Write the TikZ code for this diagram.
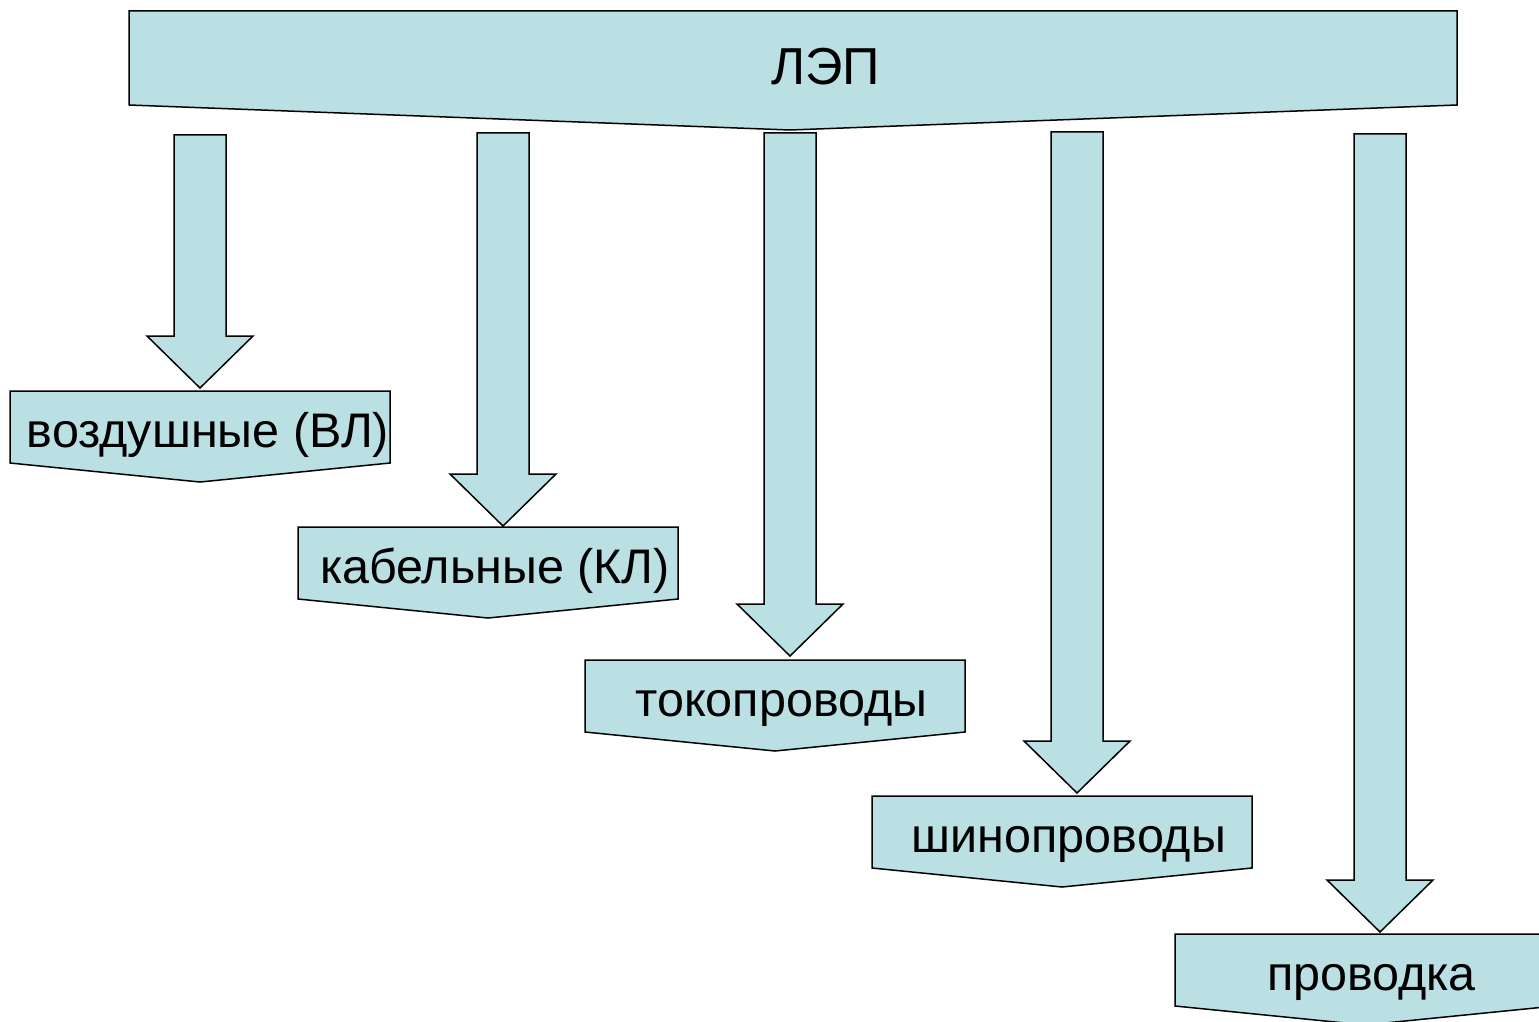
\documentclass[tikz,border=0pt]{standalone}
\usepackage{fontspec}
\setmainfont{Liberation Sans}
\definecolor{fillblue}{RGB}{187,224,227}
\tikzset{
  shp/.style={draw=black, fill=fillblue, line width=1.5pt, line join=miter},
  lbl/.style={inner sep=0pt, anchor=base, font=\fontsize{48.5}{56}\selectfont, text=black}
}
\begin{document}
\begin{tikzpicture}[x=1pt,y=-1pt]
\useasboundingbox (0,0) rectangle (1539,1022);
\clip (0,0) rectangle (1539,1022);
% banner
\draw[shp] (129,11) -- (1457,11) -- (1457,105) -- (790,130) -- (129,105) -- cycle;
\node[lbl, font=\fontsize{52}{60}\selectfont] (lep) at (825.5,85) {ЛЭП};
% block arrows
\foreach \cx/\top/\hy in {200/135/336, 503/133/474, 790/133/604, 1077/132/741, 1380/134/880}{
  \draw[shp] (\cx-26,\top) -- (\cx+26,\top) -- (\cx+26,\hy) -- (\cx+53,\hy) -- (\cx,\hy+52) -- (\cx-53,\hy) -- (\cx-26,\hy) -- cycle;
}
% target boxes
\foreach \lx/\ty in {10/391, 298/527, 585/660, 872/796, 1175/934}{
  \draw[shp] (\lx,\ty) -- (\lx+380,\ty) -- (\lx+380,\ty+72) -- (\lx+190,\ty+91) -- (\lx,\ty+72) -- cycle;
}
\node[lbl] (vl) at (208,447) {воздушные (ВЛ)};
\node[lbl] (kl) at (495,583) {кабельные (КЛ)};
\node[lbl] (tok) at (781.5,716) {токопроводы};
\node[lbl] (shin) at (1069,852) {шинопроводы};
\node[lbl] (prov) at (1371.5,990) {проводка};
\end{tikzpicture}
\end{document}
